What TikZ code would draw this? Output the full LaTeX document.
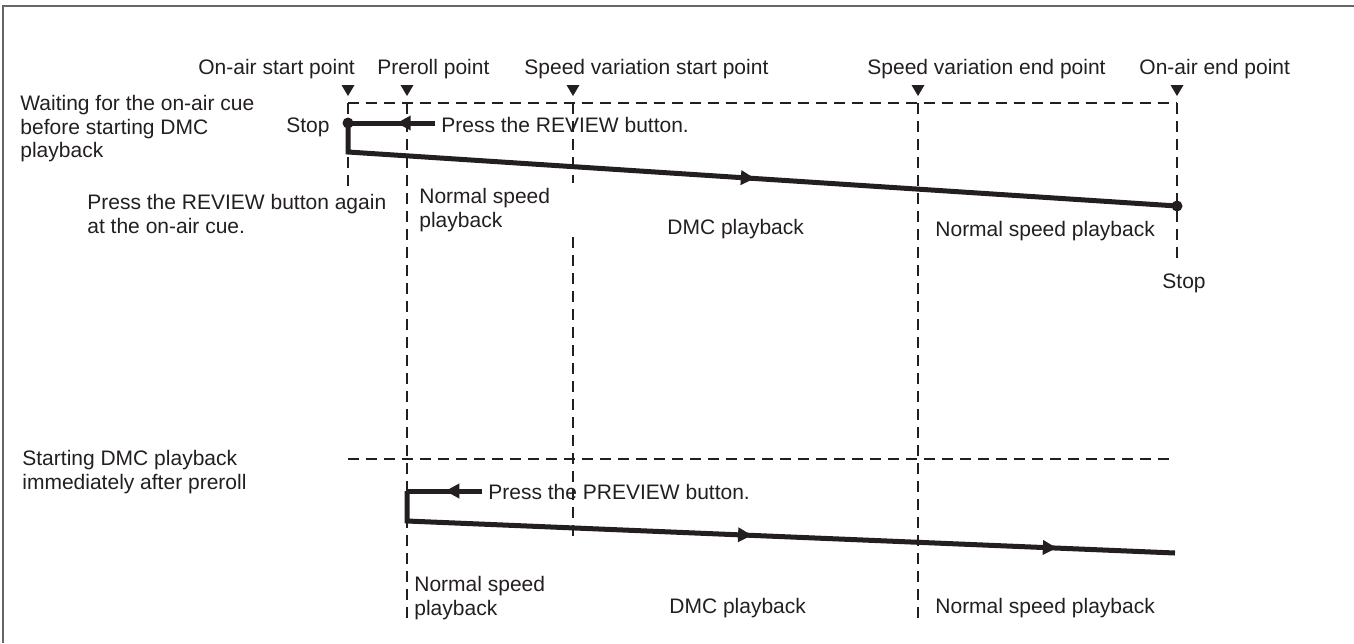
\documentclass[tikz,border=0pt]{standalone}
\usepackage{fontspec}
\setmainfont{Liberation Sans}
\usetikzlibrary{arrows.meta,decorations.markings}
\definecolor{ink}{HTML}{231F20}
\definecolor{framec}{HTML}{666666}
\begin{document}
\begin{tikzpicture}[x=0.5pt,y=-0.5pt,
  lbl/.style={font=\fontsize{10.5pt}{11.75pt}\selectfont, text=ink, inner sep=0pt, anchor=base west},
  mlbl/.style={lbl, anchor=north west, align=left},
  guide/.style={draw=ink, line width=0.75pt, dash pattern=on 5.5pt off 3.5pt},
  track/.style={draw=ink, line width=2.5pt, line join=miter},
  tri/.style={fill=ink},
  dot/.style={circle, fill=ink, inner sep=0pt, minimum size=5.5pt},
  midarrow/.style={postaction={decorate}, decoration={markings,
     mark=at position #1 with {\arrow{Triangle[length=7pt,width=7pt]}}}},
  twoarrows/.style 2 args={postaction={decorate}, decoration={markings,
     mark=at position #1 with {\arrow{Triangle[length=7pt,width=7pt]}},
     mark=at position #2 with {\arrow{Triangle[length=7pt,width=7pt]}}}}
]
\useasboundingbox (0,0) rectangle (1354,643);
% frame
\draw[framec, line width=1pt] (3,643) -- (3,6) -- (1354,6);

% guide coordinates
\coordinate (tA) at (348,103);
\coordinate (tB) at (407,103);
\coordinate (tC) at (573,103);
\coordinate (tD) at (918,103);
\coordinate (tE) at (1177,103);
\coordinate (bA) at (348,188);
\coordinate (bB) at (407,618);
\coordinate (cC1) at (573,183);
\coordinate (cC2) at (573,237);
\coordinate (bC) at (573,540);
\coordinate (bD) at (918,618);
\coordinate (bE) at (1177,258);
\coordinate (lL) at (348,459);
\coordinate (lR) at (1175,459);

% dashed guides
\draw[guide] (tA) -- (tE);
\draw[guide] (tA) -- (bA);
\draw[guide] (tB) -- (bB);
\draw[guide] (tC) -- (cC1);
\draw[guide] (cC2) -- (bC);
\draw[guide] (tD) -- (bD);
\draw[guide] (tE) -- (bE);
\draw[guide] (lL) -- (lR);

% point markers
\foreach \x in {348,407,573,918,1177}
  \fill[tri] (\x-6.5,85) -- (\x+6.5,85) -- (\x,96) -- cycle;

% top labels
\node[lbl] (lOAS) at (198,74) {On-air start point};
\node[lbl] (lPR) at (377,74) {Preroll point};
\node[lbl] (lSVS) at (524,74) {Speed variation start point};
\node[lbl] (lSVE) at (867,74) {Speed variation end point};
\node[lbl] (lOAE) at (1139,74) {On-air end point};

% upper case
\node[mlbl] (wait) at (20,95) {Waiting for the on-air cue\\before starting DMC\\playback};
\node[lbl] (stopL) at (286,132) {Stop};
\node[lbl] (pressR) at (441,132) {Press the REVIEW button.};
\node[mlbl] (pressRA) at (87,194) {Press the REVIEW button again\\at the on-air cue.};
\node[mlbl] (nsp1) at (419,188) {Normal speed\\playback};
\node[lbl] (dmc1) at (667,234) {DMC playback};
\node[lbl] (nsp2) at (935,236) {Normal speed playback};
\node[lbl] (stopR) at (1162,288) {Stop};

\coordinate (rStart) at (435,123);
\node[dot] (stop1) at (348,123) {};
\coordinate (cA) at (348,152);
\node[dot] (stop2) at (1177,206) {};
\draw[track, midarrow=0.44] (rStart) -- (stop1.center);
\draw[track, midarrow=0.508] (stop1.center) -- (cA) -- (stop2.center);

% lower case
\node[mlbl] (start) at (22,450) {Starting DMC playback\\immediately after preroll};
\node[lbl] (pressP) at (488,499) {Press the PREVIEW button.};
\node[mlbl] (nsp3) at (414,576) {Normal speed\\playback};
\node[lbl] (dmc2) at (669,613) {DMC playback};
\node[lbl] (nsp4) at (935,613) {Normal speed playback};

\coordinate (pStart) at (482,491);
\coordinate (pB) at (407,491);
\coordinate (cB) at (407,521);
\coordinate (pEnd) at (1175,553);
\draw[track, midarrow=0.49] (pStart) -- (pB);
\draw[track, twoarrows={0.47}{0.852}] (pB) -- (cB) -- (pEnd);
\end{tikzpicture}
\end{document}
